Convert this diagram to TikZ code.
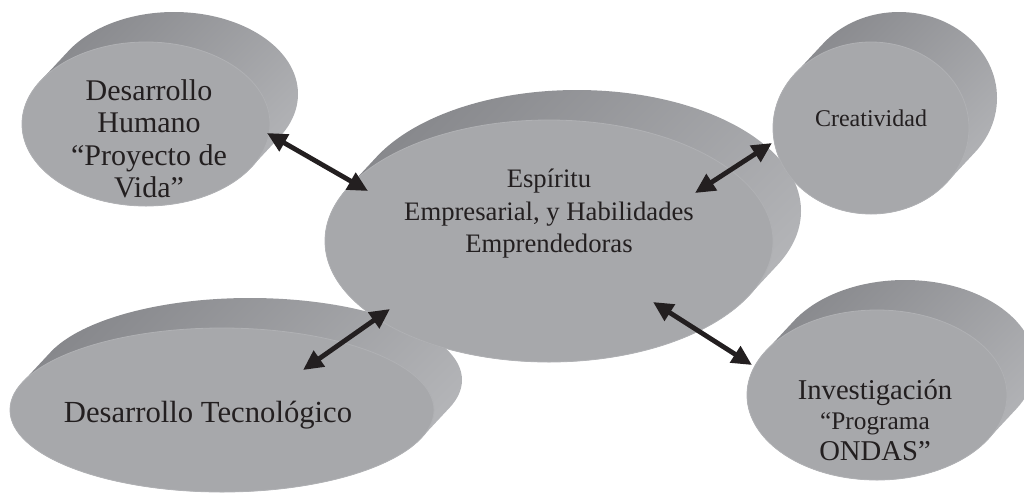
\documentclass[tikz,border=0pt]{standalone}
\usepackage{fontspec}
\setmainfont{Liberation Serif}
\usetikzlibrary{arrows.meta}
\definecolor{face}{HTML}{A7A8AB}
\definecolor{sidedark}{HTML}{85868A}
\definecolor{sidelight}{HTML}{B6B7BA}
\definecolor{rim}{HTML}{B0B1B4}
\definecolor{ink}{HTML}{231F20}
\newcommand{\cylshape}[4]{%
  \begin{scope}
    \path[clip] \foreach \k in {0,...,20} { ({#1+\k*1.4},{#2-\k*1.5}) ellipse [x radius=#3, y radius=#4] };
    \shade[top color=sidedark, bottom color=sidelight, shading angle=45]
      ({#1-#3-10},{#2-#4-50}) rectangle ({#1+#3+50},{#2+#4+10});
  \end{scope}
  \fill[face, draw=rim, line width=0.6pt] (#1,#2) ellipse [x radius=#3, y radius=#4];
}
\tikzset{
  lbl/.style={inner sep=0pt, align=center, text=ink},
  link/.style={draw=ink, line width=3.6pt, {Triangle[length=15pt,width=14pt]}-{Triangle[length=15pt,width=14pt]}, shorten <=0pt, shorten >=0pt}
}
\begin{document}
\begin{tikzpicture}[x=0.75pt, y=-0.75pt]
  \useasboundingbox (0,0) rectangle (1024,494);
  % shapes (drawn back to front)
  \cylshape{222}{410}{212}{82}
  \cylshape{146}{124}{124}{82}
  \cylshape{549}{241}{224}{121}
  \cylshape{871}{128}{98}{86}
  \cylshape{877}{395}{130}{85}
  % labels
  \node[lbl, font=\fontsize{22.5}{24.3}\selectfont] (hum) at (149,139) {Desarrollo\\Humano\\“Proyecto de\\Vida”};
  \node[lbl, font=\fontsize{20}{24.4}\selectfont] (esp) at (549,214) {Espíritu\\Empresarial, y Habilidades\\Emprendedoras};
  \node[lbl, font=\fontsize{18}{21}\selectfont] (cre) at (871,118) {Creatividad};
  \node[lbl, font=\fontsize{23}{26}\selectfont] (tec) at (208,415) {Desarrollo Tecnológico};
  \node[lbl, font=\fontsize{21.5}{23}\selectfont] (inv) at (875,420) {Investigación\\{\fontsize{19}{22}\selectfont “Programa}\\ONDAS”};
  % connector ends
  \coordinate (h1) at (267,133);
  \coordinate (e1) at (368,191);
  \coordinate (c2) at (772,143);
  \coordinate (e2) at (695,193);
  \coordinate (e3) at (390,309);
  \coordinate (t3) at (303,370);
  \coordinate (e4) at (653,302);
  \coordinate (i4) at (752,365);
  \draw[link] (h1) -- (e1);
  \draw[link] (c2) -- (e2);
  \draw[link] (e3) -- (t3);
  \draw[link] (e4) -- (i4);
\end{tikzpicture}
\end{document}
